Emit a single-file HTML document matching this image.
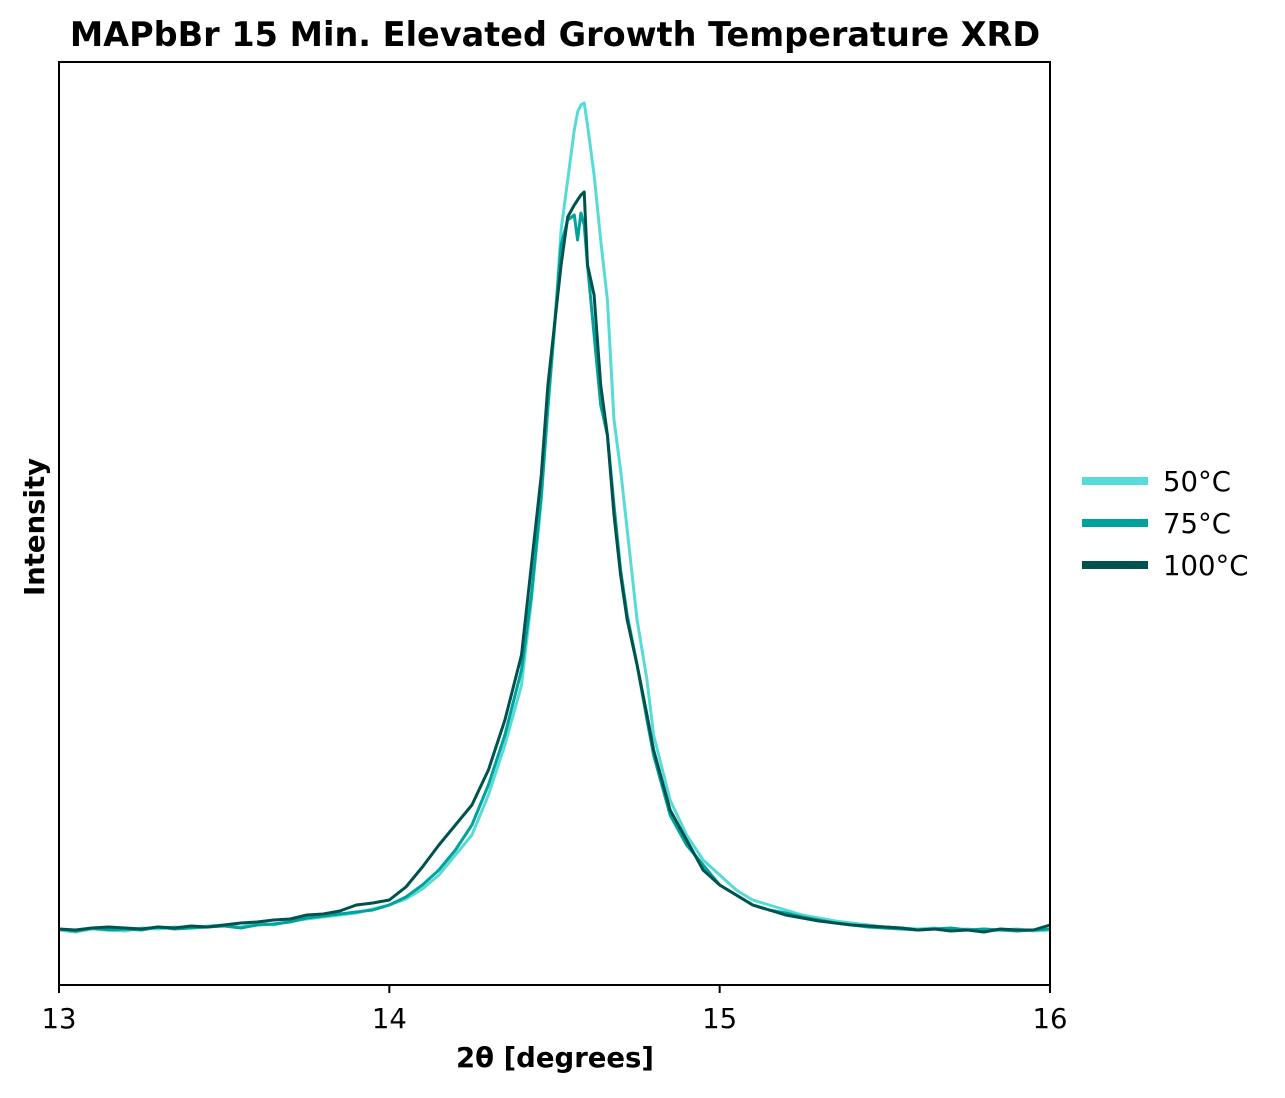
<!DOCTYPE html>
<html><head><meta charset="utf-8"><style>
body{margin:0;background:#fff;}
svg text{font-family:"DejaVu Sans","Liberation Sans",sans-serif;}
</style></head><body>
<svg width="1285" height="1093" viewBox="0 0 1285 1093" id="chart">
<rect width="1285" height="1093" fill="#fff"/>
<text x="555" y="46" text-anchor="middle" font-size="33.5" font-weight="bold">MAPbBr 15 Min. Elevated Growth Temperature XRD</text>
<g id="series"></g>
<rect x="59" y="62" width="991" height="923" fill="none" stroke="#000" stroke-width="2"/>
<g id="ticks"></g>
<text x="555" y="1067" text-anchor="middle" font-size="27.5" font-weight="bold">2θ [degrees]</text>
<text transform="translate(44,527) rotate(-90)" text-anchor="middle" font-size="27.5" font-weight="bold">Intensity</text>
<g id="legend"></g>
</svg>
<script>
const xs=[13.00,13.05,13.10,13.15,13.20,13.25,13.30,13.35,13.40,13.45,13.50,13.55,13.60,13.65,13.70,13.75,13.80,13.85,13.90,13.95,14.00,14.05,14.10,14.15,14.20,14.25,14.30,14.35,14.40,
14.43,14.46,14.48,14.50,14.52,14.54,14.56,14.57,14.58,14.59,14.60,14.62,14.64,14.66,14.68,14.70,14.72,14.75,14.78,14.80,
14.85,14.90,14.95,15.00,15.05,15.10,15.15,15.20,15.25,15.30,15.35,15.40,15.45,15.50,15.55,15.60,15.65,15.70,15.75,15.80,15.85,15.90,15.95,16.00];
const s50=[55,53,56,55,54,57,56,58,57,59,60,58,62,60,64,66,68,70,72,76,80,86,96,110,130,150,190,240,300,
385,485,575,655,755,805,855,873,880,882,860,810,745,685,565,515,455,365,305,250,
185,150,125,110,95,85,80,75,70,67,64,62,60,58,57,56,57,55,56,54,55,56,54,55];
const s75=[56,54,57,55,56,55,58,56,57,58,59,57,60,61,63,67,69,71,73,75,80,88,100,115,135,160,200,250,315,
390,490,580,660,740,765,770,745,772,760,720,650,580,550,480,415,370,320,265,230,
170,140,120,100,90,80,75,72,68,65,62,60,58,57,56,55,56,57,55,56,55,54,55,56];
const s100=[56,55,57,58,57,56,58,57,59,58,60,62,63,65,66,70,71,74,80,82,85,98,118,140,160,180,215,265,330,
420,510,600,660,720,768,780,785,790,793,720,690,600,550,470,410,365,320,270,235,
175,145,115,100,90,80,75,70,67,64,62,60,59,58,57,55,56,54,55,53,56,55,55,60];
const labels=["50°C","75°C","100°C"];
const xTicks=[13,14,15,16];
const colors=["#56dbd8","#00a39b","#00524f"];
const NS="http://www.w3.org/2000/svg";
const X=v=>59+(v-13)/3*991;
const Y=v=>985-v;
const g=document.getElementById('series');
[s50,s75,s100].forEach((s,i)=>{
 const p=document.createElementNS(NS,'path');
 p.setAttribute('d',s.map((v,j)=>(j?'L':'M')+X(xs[j]).toFixed(1)+','+Y(v).toFixed(1)).join(''));
 p.setAttribute('fill','none');p.setAttribute('stroke',colors[i]);p.setAttribute('stroke-width','3');p.setAttribute('stroke-linejoin','round');
 
 
 g.appendChild(p);
});
const tg=document.getElementById('ticks');
xTicks.forEach(t=>{
 const l=document.createElementNS(NS,'line');
 l.setAttribute('x1',X(t));l.setAttribute('x2',X(t));l.setAttribute('y1',985);l.setAttribute('y2',993);l.setAttribute('stroke','#000');l.setAttribute('stroke-width','2');
 
 
 tg.appendChild(l);
 const tx=document.createElementNS(NS,'text');
 tx.setAttribute('x',X(t));tx.setAttribute('y',1028);tx.setAttribute('text-anchor','middle');tx.setAttribute('font-size','27.5');
 tx.textContent=t;
 
 
 tg.appendChild(tx);
});
const lg=document.getElementById('legend');
labels.forEach((lab,i)=>{
 const y=481+i*42;
 const l=document.createElementNS(NS,'line');
 l.setAttribute('x1',1082);l.setAttribute('x2',1148);l.setAttribute('y1',y);l.setAttribute('y2',y);l.setAttribute('stroke',colors[i]);l.setAttribute('stroke-width','8');
 
 
 lg.appendChild(l);
 const tx=document.createElementNS(NS,'text');
 tx.setAttribute('x',1163);tx.setAttribute('y',y+10);tx.setAttribute('font-size','27.5');
 tx.textContent=lab;
 
 
 lg.appendChild(tx);
});
</script>
</body></html>
